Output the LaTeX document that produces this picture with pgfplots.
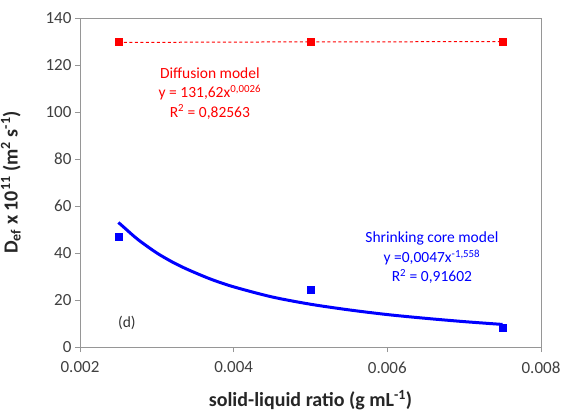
\documentclass[border=0pt]{standalone}
\usepackage{pgfplots}
\pgfplotsset{compat=1.18}
\usepackage{fontspec}
\setmainfont{Carlito}
\definecolor{axgray}{RGB}{150,150,150}
\definecolor{tickgray}{RGB}{64,64,64}
\begin{document}
\begin{tikzpicture}
\path[use as bounding box] (-80pt,-65pt) rectangle (481pt,347pt);
\begin{axis}[
  scale only axis,
  width=461pt, height=329pt,
  xmin=0.002, xmax=0.008,
  ymin=0, ymax=140,
  scaled x ticks=false,
  xtick={0.002,0.004,0.006,0.008},
  xticklabels={0.002,0.004,0.006,0.008},
  ytick={0,20,40,60,80,100,120,140},
  yticklabels={0,20,40,60,80,100,120,140},
  xtick pos=bottom, ytick pos=left,
  tick align=outside,
  major tick length=5pt,
  axis line style={axgray},
  tick style={axgray, line width=0.8pt},
  ticklabel style={font=\fontsize{17}{19}\selectfont, text=tickgray},
  x tick label style={yshift=-6pt},
  xlabel={\textbf{solid-liquid ratio (g mL\textsuperscript{-1})}},
  ylabel={\textbf{D\textsubscript{ef} x 10\textsuperscript{11} (m\textsuperscript{2} s\textsuperscript{-1})}},
  label style={font=\fontsize{20}{22}\selectfont, text=black!85},
  x label style={at={(axis description cs:0.5,-0.162)}, anchor=center},
  y label style={at={(axis description cs:-0.15,0.5)}, anchor=center},
  clip=false,
]
% diffusion model data and trend line
\addplot[red, dash pattern=on 3pt off 2.5pt, line width=1pt, forget plot]
  coordinates {(0.0025,129.6) (0.0035,129.7) (0.0045,129.8) (0.0055,129.85) (0.0065,129.9) (0.0075,130.0)};
\addplot[only marks, mark=square*, mark size=3.5pt, red]
  coordinates {(0.0025,129.8) (0.005,129.9) (0.0075,130.1)};
% shrinking core model data and trend line
\addplot[blue, line width=3pt, smooth]
  coordinates {(0.0025,53.0) (0.0026,50.1) (0.0027,47.2) (0.0028,44.6) (0.003,40.0)
   (0.0032,36.2) (0.0034,33.0) (0.0037,28.9) (0.004,25.6) (0.0045,21.3) (0.005,18.2)
   (0.0055,15.8) (0.006,13.8) (0.0065,12.2) (0.007,10.8) (0.0075,9.6)};
\addplot[only marks, mark=square*, mark size=3.5pt, blue]
  coordinates {(0.0025,46.8) (0.005,24.3) (0.0075,8.1)};
\node[red, align=center, font=\fontsize{15.5}{19.5}\selectfont] at (axis cs:0.00369,108)
  {Diffusion model\\ y = 131,62x\textsuperscript{0,0026}\\ R\textsuperscript{2} = 0,82563};
\node[blue, align=center, font=\fontsize{15.5}{19.5}\selectfont] at (axis cs:0.00658,37.9)
  {Shrinking core model\\ y =0,0047x\textsuperscript{-1,558}\\ R\textsuperscript{2} = 0,91602};
\node[font=\fontsize{15.5}{17}\selectfont, text=black!80] at (axis cs:0.00261,10.2) {(d)};
\end{axis}
\end{tikzpicture}
\end{document}
